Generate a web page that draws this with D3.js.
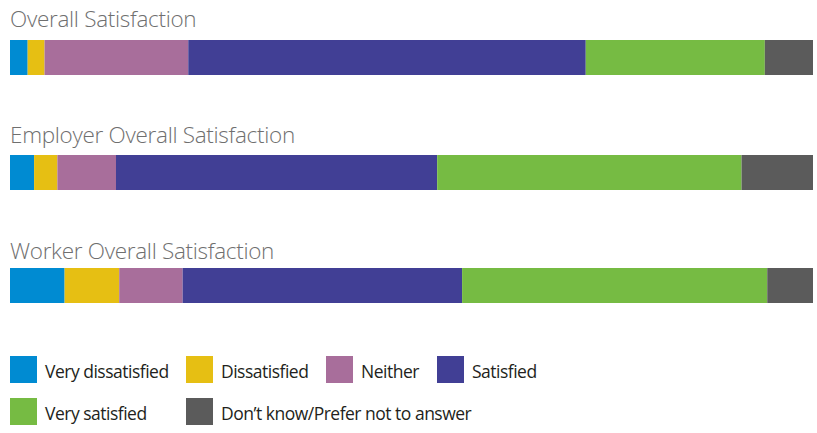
<!DOCTYPE html>
<html><head><meta charset="utf-8">
<script src="https://cdn.jsdelivr.net/npm/d3@7"></script>
<style>body{margin:0;background:#fff}svg{display:block}</style>
</head><body>
<svg id="chart" width="817" height="433"></svg>
<script>
const groups = ["Overall Satisfaction", "Employer Overall Satisfaction", "Worker Overall Satisfaction"];
const categories = ["Very dissatisfied", "Dissatisfied", "Neither", "Satisfied", "Very satisfied", "Don\u2019t know/Prefer not to answer"];
const veryDissatisfied = [2.2, 3.0, 6.8];
const dissatisfied = [2.1, 2.9, 6.8];
const neither = [17.9, 7.3, 7.9];
const satisfied = [49.5, 40.0, 34.8];
const verySatisfied = [22.3, 37.9, 38.0];
const dontKnow = [6.0, 8.9, 5.7];
const colors = ["#008BD2", "#E6BF13", "#A86E9B", "#413F95", "#76BB43", "#5B5B5B"];

const series = [veryDissatisfied, dissatisfied, neither, satisfied, verySatisfied, dontKnow];
const rows = groups.map((g, i) => {
  const r = {group: g};
  categories.forEach((c, j) => r[c] = series[j][i]);
  return r;
});
const stack = d3.stack().keys(categories)(rows);

const svg = d3.select("#chart");
const x = d3.scaleLinear().domain([0, 100]).range([10, 813]);
const barTops = [40, 155, 268];
const titleBaselines = [27, 143, 259];
const y = d3.scaleOrdinal().domain(groups).range(barTops);
const barH = 35;

const g = svg.append("g");
stack.forEach((layer, j) => {
  g.selectAll(null).data(layer).enter().append("rect")
    .attr("x", d => x(d[0]))
    .attr("y", d => y(d.data.group))
    .attr("width", d => x(d[1]) - x(d[0]))
    .attr("height", barH)
    .attr("fill", colors[j]);
});

svg.selectAll(".title").data(groups).enter().append("text")
  .attr("class", "title")
  .attr("x", 10)
  .attr("y", (d, i) => titleBaselines[i])
  .attr("font-family", "'Open Sans', sans-serif")
  .attr("font-weight", 300)
  .attr("font-size", 22.5)
  .attr("letter-spacing", -0.3)
  .attr("fill", "#6f6f6f")
  .text(d => d);

const legendPos = [[10, 356], [186, 356], [326, 356], [437, 356], [10, 398], [186, 398]];
const lg = svg.selectAll(".leg").data(categories).enter().append("g")
  .attr("class", "leg")
  .attr("transform", (d, i) => `translate(${legendPos[i][0]},${legendPos[i][1]})`);
lg.append("rect").attr("width", 27).attr("height", 27).attr("fill", (d, i) => colors[i]);
lg.append("text").attr("x", 35).attr("y", 21.5)
  .attr("font-family", "'Open Sans', sans-serif")
  .attr("font-size", 17.5)
  .attr("letter-spacing", -0.5)
  .attr("fill", "#231f20")
  .text(d => d);
</script>
</body></html>
